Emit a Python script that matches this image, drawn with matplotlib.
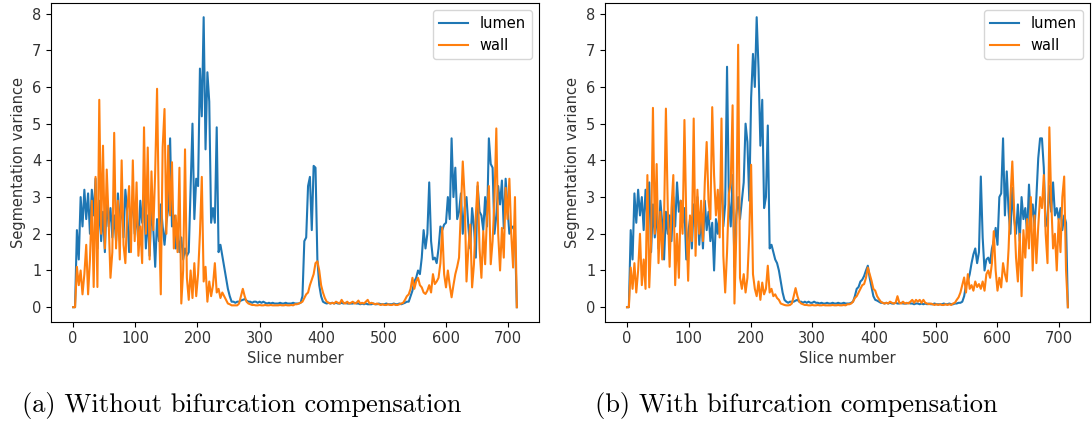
import numpy as np
import matplotlib
matplotlib.use("Agg")
import matplotlib.pyplot as plt

# slice index, one reading every 3 slices
slices = np.arange(0, 717, 3)

# ---- (a) without bifurcation compensation ----
lumen_a = [
    0, 0, 2.1, 1.3, 3.0, 2.2, 3.2, 2.4, 3.1, 2.0,
    3.2, 2.5, 3.5, 1.6, 2.9, 1.8, 2.6, 1.5, 3.0, 2.2,
    2.7, 1.9, 2.5, 1.8, 3.1, 2.3, 2.8, 1.9, 3.2, 2.6,
    1.5, 2.4, 3.0, 2.0, 2.6, 1.7, 2.9, 2.3, 3.1, 1.6,
    2.5, 1.4, 2.7, 2.1, 1.1, 2.4, 1.8, 2.8, 2.2, 1.7,
    2.3, 2.7, 4.6, 2.2, 2.5, 1.6, 2.2, 1.5, 1.9, 1.3,
    1.6, 1.4, 1.5, 3.3, 5.0, 2.4, 3.5, 3.3, 6.5, 5.2,
    7.9, 4.3, 6.4, 5.6, 2.3, 2.7, 2.3, 4.9, 1.5, 1.7,
    1.4, 1.1, 0.8, 0.5, 0.3, 0.15, 0.15, 0.12, 0.15, 0.15,
    0.18, 0.2, 0.22, 0.18, 0.15, 0.15, 0.12, 0.15, 0.15, 0.12,
    0.15, 0.12, 0.15, 0.12, 0.1, 0.12, 0.1, 0.12, 0.1, 0.1,
    0.1, 0.12, 0.1, 0.1, 0.12, 0.1, 0.1, 0.1, 0.12, 0.1,
    0.1, 0.1, 0.12, 0.3, 1.8, 1.9, 3.3, 3.55, 2.1, 3.85,
    3.8, 1.3, 0.6, 0.3, 0.15, 0.12, 0.1, 0.12, 0.1, 0.12,
    0.1, 0.12, 0.1, 0.1, 0.12, 0.1, 0.12, 0.1, 0.1, 0.1,
    0.1, 0.12, 0.1, 0.1, 0.08, 0.1, 0.08, 0.1, 0.08, 0.08,
    0.08, 0.1, 0.08, 0.08, 0.1, 0.08, 0.08, 0.08, 0.1, 0.08,
    0.08, 0.08, 0.1, 0.08, 0.08, 0.1, 0.08, 0.1, 0.12, 0.15,
    0.15, 0.3, 0.45, 0.7, 0.8, 1.0, 0.9, 1.35, 2.1, 1.6,
    2.0, 3.4, 1.8, 1.3, 1.35, 1.2, 1.6, 2.2, 2.1, 2.25,
    2.3, 3.0, 2.4, 4.6, 3.0, 3.8, 2.4, 2.6, 3.1, 2.0,
    2.7, 3.0, 2.2, 1.6, 2.7, 2.2, 1.35, 3.3, 2.6, 2.5,
    2.1, 3.0, 2.2, 4.6, 3.9, 3.8, 2.0, 2.5, 3.3, 2.8,
    3.45, 2.15, 3.5, 2.7, 2.0, 2.15, 2.2, 2.0, 0,
]
wall_a = [
    0, 0, 1.1, 0.6, 1.0, 0.35, 0.9, 1.7, 0.35, 1.3,
    2.9, 0.55, 3.55, 0.55, 5.65, 2.0, 4.4, 1.6, 3.75, 2.4,
    0.8, 1.5, 4.75, 1.6, 2.9, 1.3, 4.0, 1.7, 1.2, 2.6,
    3.3, 1.5, 4.0, 1.8, 3.4, 1.4, 2.2, 1.2, 4.9, 2.0,
    4.35, 1.3, 3.7, 2.1, 3.7, 5.95, 2.5, 0.35, 4.35, 5.4,
    2.0, 4.4, 2.5, 3.95, 1.6, 2.5, 1.5, 3.8, 0.1, 1.0,
    4.3, 0.8, 0.2, 1.0, 0.25, 1.2, 0.3, 0.9, 2.0, 3.55,
    0.7, 1.1, 0.15, 0.7, 0.3, 0.6, 1.2, 0.4, 0.5, 0.25,
    0.4, 0.3, 0.2, 0.1, 0.08, 0.05, 0.05, 0.05, 0.05, 0.1,
    0.3, 0.5, 0.3, 0.15, 0.1, 0.08, 0.06, 0.06, 0.05, 0.05,
    0.06, 0.05, 0.05, 0.06, 0.05, 0.05, 0.06, 0.05, 0.05, 0.05,
    0.05, 0.06, 0.05, 0.05, 0.06, 0.05, 0.05, 0.06, 0.05, 0.08,
    0.08, 0.1, 0.12, 0.15, 0.25, 0.35, 0.4, 0.6, 0.75, 0.9,
    1.2, 1.25, 1.0, 0.6, 0.4, 0.25, 0.15, 0.12, 0.1, 0.12,
    0.1, 0.15, 0.12, 0.1, 0.2, 0.12, 0.1, 0.15, 0.1, 0.12,
    0.15, 0.1, 0.12, 0.18, 0.1, 0.12, 0.1, 0.15, 0.2, 0.1,
    0.12, 0.1, 0.08, 0.1, 0.08, 0.06, 0.08, 0.06, 0.06, 0.08,
    0.06, 0.06, 0.08, 0.06, 0.06, 0.08, 0.1, 0.12, 0.2, 0.3,
    0.35, 0.5, 0.8, 0.5, 0.7, 0.8, 0.6, 0.54, 0.4, 0.36,
    0.45, 0.6, 0.4, 0.9, 0.63, 0.7, 0.8, 1.2, 2.16, 0.9,
    0.54, 1.0, 0.6, 0.27, 0.6, 0.9, 1.1, 1.35, 2.7, 3.97,
    3.0, 0.7, 1.6, 2.25, 0.54, 1.17, 2.5, 3.4, 1.6, 0.8,
    2.07, 1.17, 2.5, 3.3, 1.17, 1.8, 2.9, 4.87, 2.0, 1.0,
    2.16, 1.35, 3.25, 2.4, 3.5, 2.0, 1.08, 3.0, 0,
]

# ---- (b) with bifurcation compensation ----
lumen_b = [
    0, 0, 2.1, 1.3, 3.1, 2.3, 3.2, 2.5, 3.0, 2.1,
    3.2, 2.4, 3.4, 1.5, 2.8, 1.9, 2.7, 1.6, 2.9, 2.3,
    1.3, 2.6, 2.0, 2.5, 1.8, 3.0, 2.2, 3.4, 2.6, 2.9,
    2.3, 2.7, 1.3, 2.0, 2.4, 1.6, 2.8, 2.2, 3.0, 1.7,
    2.5, 1.6, 2.9, 2.1, 2.6, 1.8, 2.3, 1.0, 2.4, 2.0,
    2.6, 3.6, 2.2, 2.8, 6.55, 2.9, 2.2, 3.6, 1.1, 2.5,
    3.0, 2.4, 2.9, 3.4, 5.0, 4.5, 2.9, 5.7, 6.9, 6.0,
    7.9, 6.5, 4.4, 5.65, 2.7, 3.0, 4.95, 1.6, 1.7, 1.5,
    1.3, 1.2, 1.0, 0.7, 0.4, 0.2, 0.15, 0.12, 0.15, 0.15,
    0.15, 0.18, 0.2, 0.15, 0.15, 0.12, 0.15, 0.12, 0.15, 0.12,
    0.12, 0.15, 0.12, 0.12, 0.1, 0.12, 0.1, 0.1, 0.12, 0.1,
    0.1, 0.12, 0.1, 0.1, 0.12, 0.1, 0.1, 0.12, 0.1, 0.1,
    0.1, 0.12, 0.15, 0.3, 0.5, 0.55, 0.7, 0.75, 0.85, 1.0,
    1.13, 0.8, 0.55, 0.3, 0.2, 0.18, 0.15, 0.12, 0.12, 0.1,
    0.12, 0.1, 0.12, 0.1, 0.1, 0.12, 0.1, 0.1, 0.12, 0.1,
    0.1, 0.1, 0.12, 0.1, 0.1, 0.08, 0.1, 0.1, 0.08, 0.1,
    0.08, 0.1, 0.08, 0.1, 0.08, 0.08, 0.1, 0.08, 0.08, 0.08,
    0.08, 0.1, 0.08, 0.08, 0.1, 0.08, 0.08, 0.1, 0.1, 0.12,
    0.12, 0.15, 0.3, 0.6, 0.7, 0.9, 1.2, 1.44, 1.6, 1.2,
    1.5, 3.56, 1.9, 1.0, 1.3, 1.35, 1.2, 1.6, 1.8, 2.16,
    1.7, 3.0, 3.1, 4.6, 2.5, 3.7, 2.6, 2.0, 3.25, 2.4,
    2.0, 2.8, 1.8, 3.0, 2.4, 2.7, 2.0, 3.34, 2.4, 2.8,
    2.2, 3.0, 4.06, 4.6, 4.6, 3.8, 2.2, 2.4, 3.3, 2.6,
    3.4, 2.5, 2.7, 2.4, 2.7, 2.1, 2.5, 2.3, 0,
]
wall_b = [
    0, 0, 1.08, 0.5, 1.2, 0.4, 1.0, 2.0, 0.6, 1.3,
    0.5, 3.6, 0.54, 1.8, 5.43, 2.0, 3.9, 1.2, 2.6, 1.3,
    2.4, 5.41, 2.7, 1.1, 2.7, 3.6, 0.6, 2.0, 0.8, 2.9,
    2.0, 5.1, 2.4, 0.72, 2.5, 1.8, 5.14, 1.4, 3.2, 2.0,
    2.9, 1.8, 3.4, 4.5, 2.9, 2.4, 5.45, 3.6, 2.5, 3.2,
    1.9, 5.14, 1.4, 0.4, 1.5, 3.07, 3.4, 5.5, 0.1, 2.0,
    7.15, 0.8, 0.5, 0.9, 0.4, 0.8, 2.0, 3.88, 0.9, 0.5,
    0.3, 0.7, 0.2, 0.67, 0.35, 0.5, 1.13, 0.4, 0.5, 0.3,
    0.35, 0.25, 0.2, 0.1, 0.08, 0.06, 0.05, 0.05, 0.06, 0.1,
    0.3, 0.52, 0.3, 0.15, 0.1, 0.08, 0.06, 0.06, 0.05, 0.05,
    0.06, 0.05, 0.05, 0.06, 0.05, 0.05, 0.06, 0.05, 0.05, 0.05,
    0.05, 0.06, 0.05, 0.05, 0.06, 0.05, 0.05, 0.06, 0.05, 0.08,
    0.08, 0.1, 0.15, 0.25, 0.3, 0.4, 0.5, 0.6, 0.63, 0.8,
    1.08, 0.9, 0.72, 0.5, 0.45, 0.3, 0.22, 0.15, 0.12, 0.1,
    0.12, 0.1, 0.15, 0.12, 0.1, 0.12, 0.3, 0.12, 0.1, 0.15,
    0.1, 0.12, 0.1, 0.15, 0.2, 0.12, 0.2, 0.15, 0.2, 0.12,
    0.2, 0.12, 0.1, 0.08, 0.1, 0.08, 0.06, 0.08, 0.06, 0.08,
    0.06, 0.06, 0.08, 0.06, 0.08, 0.06, 0.1, 0.12, 0.2, 0.27,
    0.4, 0.6, 0.81, 0.4, 0.9, 0.5, 0.6, 0.45, 0.7, 0.55,
    0.63, 0.5, 0.7, 0.45, 0.9, 1.0, 0.8, 1.2, 2.07, 1.0,
    0.45, 0.8, 0.54, 1.2, 0.9, 0.7, 1.6, 3.0, 3.97, 2.6,
    1.35, 0.7, 2.0, 0.3, 2.1, 1.35, 2.4, 1.6, 3.0, 1.0,
    2.5, 1.2, 2.2, 3.0, 2.7, 3.6, 2.0, 1.2, 4.9, 2.9,
    1.6, 2.0, 1.0, 2.4, 1.5, 3.0, 3.56, 1.0, 0,
]

captions = ["(a) Without bifurcation compensation",
            "(b) With bifurcation compensation"]

fig = plt.figure(figsize=(10.92, 4.23), dpi=100)
ax_a = fig.add_axes([0.0467, 0.2395, 0.4469, 0.7541])
ax_b = fig.add_axes([0.554, 0.2395, 0.4441, 0.7541])

for ax, lumen, wall in [(ax_a, lumen_a, wall_a), (ax_b, lumen_b, wall_b)]:
    ax.plot(slices, lumen, color="#1f77b4", lw=1.5, label="lumen")
    ax.plot(slices, wall, color="#ff7f0e", lw=1.5, label="wall")
    ax.set_xticks(range(0, 701, 100))
    ax.set_yticks(range(0, 9))
    ax.set_xlabel("Slice number", fontsize=10.5, color="#333333", labelpad=3)
    ax.set_ylabel("Segmentation variance", fontsize=10.5, color="#333333")
    ax.tick_params(labelsize=10.5, labelcolor="#333333")
    ax.legend(loc="upper right", fontsize=10.5)

fig.text(22 / 1092, 1 - 405 / 423, captions[0], family="cmr10",
         fontsize=19, va="center", ha="left")
fig.text(595 / 1092, 1 - 405 / 423, captions[1], family="cmr10",
         fontsize=19, va="center", ha="left")

fig.savefig("out.png", dpi=100)
